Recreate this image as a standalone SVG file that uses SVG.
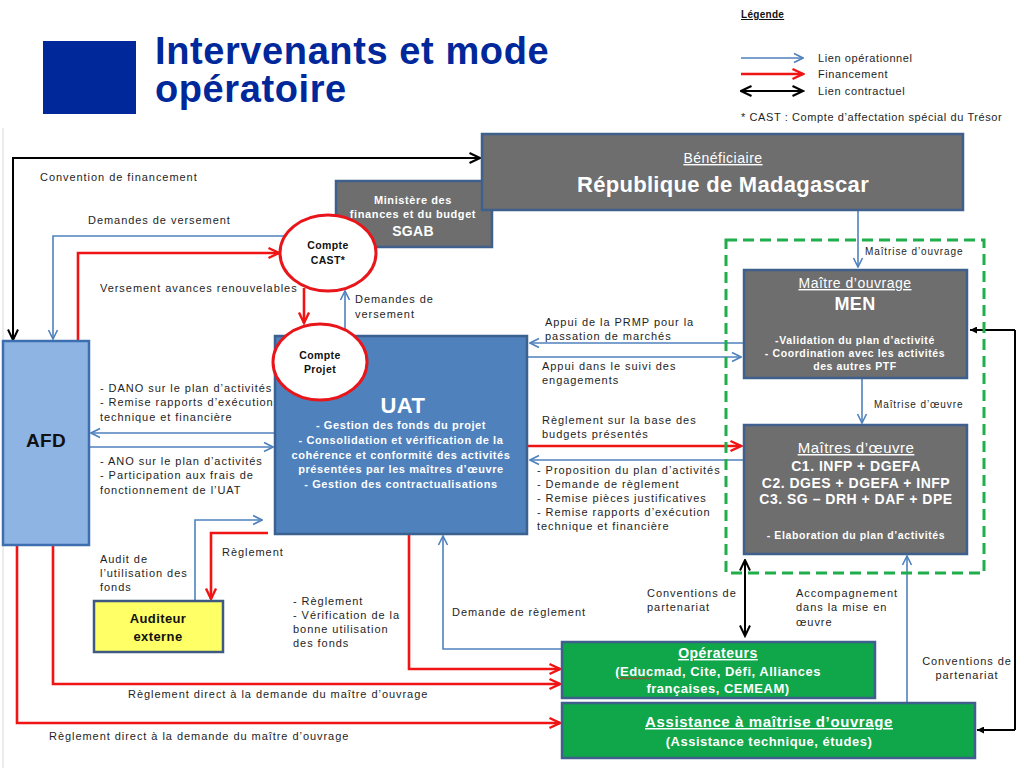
<svg xmlns="http://www.w3.org/2000/svg" width="1024" height="768" viewBox="0 0 1024 768">
<defs>
<style>
.t{font-family:"Liberation Sans",Arial,sans-serif}
.lbl{font-family:"Liberation Sans",Arial,sans-serif;font-size:11px;letter-spacing:0.95px;fill:#1e1e1e}
.leg{font-family:"Liberation Sans",Arial,sans-serif;font-size:11px;letter-spacing:0.6px;fill:#1e1e1e}
.bw{font-family:"Liberation Sans",Arial,sans-serif;font-weight:bold;font-size:11px;letter-spacing:0.6px;fill:#fff;text-anchor:middle}
.bk{font-family:"Liberation Sans",Arial,sans-serif;font-weight:bold;fill:#111;text-anchor:middle}
.ul{text-decoration:underline}
.gray{fill:#6e6e6e;stroke:#3f5f8c;stroke-width:2.5}
.grn{fill:#10a64a;stroke:#3f5f8c;stroke-width:2.5}
.cb{fill:none;stroke:#4f81bd;stroke-width:1.6;marker-end:url(#mb)}
.cr{fill:none;stroke:#f01414;stroke-width:2.6;marker-end:url(#mr)}
.ck{fill:none;stroke:#000;stroke-width:2;marker-start:url(#mk);marker-end:url(#mk)}
</style>
<marker id="mb" viewBox="0 0 12 12" refX="11" refY="6" markerWidth="12" markerHeight="12" markerUnits="userSpaceOnUse" orient="auto-start-reverse"><path d="M2,1.5 L11,6 L2,10.5" fill="none" stroke="#4f81bd" stroke-width="1.6"/></marker>
<marker id="mr" viewBox="0 0 14 14" refX="12.5" refY="7" markerWidth="14" markerHeight="14" markerUnits="userSpaceOnUse" orient="auto-start-reverse"><path d="M2,2 L12.5,7 L2,12" fill="none" stroke="#f01414" stroke-width="2.4"/></marker>
<marker id="mk" viewBox="0 0 14 14" refX="12.5" refY="7" markerWidth="14" markerHeight="14" markerUnits="userSpaceOnUse" orient="auto-start-reverse"><path d="M2,2 L12.5,7 L2,12" fill="none" stroke="#000" stroke-width="2"/></marker>
<marker id="mks" viewBox="0 0 8 8" refX="8" refY="4" markerWidth="8" markerHeight="7" markerUnits="userSpaceOnUse" orient="auto-start-reverse"><path d="M0,0 L8,4 L0,8 Z" fill="#000"/></marker>
</defs>
<rect width="1024" height="768" fill="#fff"/>
<line x1="3" y1="128" x2="3" y2="768" stroke="#d8d8d8" stroke-width="1"/>

<g id="title">
<rect x="43" y="41" width="93" height="73" fill="#00289a"/>
<text class="t" x="155" y="64" style="font-size:38px;font-weight:bold;letter-spacing:0.6px" fill="#00289a">Intervenants et mode</text>
<text class="t" x="155" y="102" style="font-size:38px;font-weight:bold;letter-spacing:0.6px" fill="#00289a">opératoire</text>
</g>

<g id="legend">
<text class="t ul" x="741" y="18" style="font-size:10px;font-weight:bold;letter-spacing:0.3px" fill="#111">Légende</text>
<line x1="741" y1="58" x2="803" y2="58" stroke="#4f81bd" stroke-width="1.6" marker-end="url(#mb)"/>
<text class="leg" x="818" y="62">Lien opérationnel</text>
<line x1="741" y1="74" x2="803" y2="74" stroke="#f01414" stroke-width="2.6" marker-end="url(#mr)"/>
<text class="leg" x="818" y="78">Financement</text>
<line x1="741" y1="91" x2="803" y2="91" stroke="#000" stroke-width="2" marker-start="url(#mk)" marker-end="url(#mk)"/>
<text class="leg" x="818" y="95">Lien contractuel</text>
<text class="leg" x="741" y="121">* CAST : Compte d’affectation spécial du Trésor</text>
</g>

<g id="connectors">
<path class="ck" d="M13,340 V158 H480"/>
<path class="cb" d="M286,236 H53 V339"/>
<path class="cr" d="M78,341 V253 H279"/>
<path class="cr" d="M304,288 V323"/>
<path class="cb" d="M345,336 V291"/>
<path class="cb" d="M858,210 V267"/>
<path class="cb" d="M743,343 H530"/>
<path class="cb" d="M528,357 H741"/>
<path class="cb" d="M862,378 V423"/>
<path class="cr" d="M528,446 H741"/>
<path class="cb" d="M743,460 H530"/>
<path class="cb" d="M275,433 H91"/>
<path class="cb" d="M90,447 H273"/>
<path class="cb" d="M195,601 V520 H262"/>
<path class="cr" d="M268,533 H211 V599"/>
<path class="cr" d="M409,534 V669 H560"/>
<path class="cb" d="M562,649 H443 V536"/>
<path class="cr" d="M53,545 V684 H560"/>
<path class="cr" d="M17,545 V723 H560"/>
<path class="ck" d="M745,636 V560"/>
<path class="cb" d="M907,703 V556"/>
<path d="M1015,330 V730" fill="none" stroke="#000" stroke-width="2"/>
<path d="M1015,330 H970" fill="none" stroke="#000" stroke-width="2" marker-end="url(#mks)"/>
<path d="M1015,730 H977" fill="none" stroke="#000" stroke-width="2" marker-end="url(#mks)"/>
</g>

<g id="labels">
<text class="lbl" x="40" y="181">Convention de financement</text>
<text class="lbl" x="88" y="224">Demandes de versement</text>
<text class="lbl" x="100" y="292">Versement avances renouvelables</text>
<text class="lbl" x="355" y="303">Demandes de</text>
<text class="lbl" x="355" y="318">versement</text>
<text class="lbl" x="865" y="255" style="font-size:10px;letter-spacing:0.9px">Maîtrise d’ouvrage</text>
<text class="lbl" x="545" y="326">Appui de la PRMP pour la</text>
<text class="lbl" x="545" y="340">passation de marchés</text>
<text class="lbl" x="542" y="370">Appui dans le suivi des</text>
<text class="lbl" x="542" y="384">engagements</text>
<text class="lbl" x="874" y="408" style="font-size:10px;letter-spacing:0.9px">Maîtrise d’œuvre</text>
<text class="lbl" x="542" y="424">Règlement  sur la base des</text>
<text class="lbl" x="542" y="438">budgets présentés</text>
<text class="lbl" x="537" y="474">- Proposition du plan d’activités</text>
<text class="lbl" x="537" y="488">- Demande de règlement</text>
<text class="lbl" x="537" y="502">- Remise pièces justificatives</text>
<text class="lbl" x="537" y="516">- Remise rapports d’exécution</text>
<text class="lbl" x="537" y="530">technique et financière</text>
<text class="lbl" x="100" y="392">- DANO sur le plan d’activités</text>
<text class="lbl" x="100" y="406">- Remise rapports d’exécution</text>
<text class="lbl" x="100" y="421">technique et financière</text>
<text class="lbl" x="100" y="465">-  ANO sur le plan d’activités</text>
<text class="lbl" x="100" y="479">- Participation aux frais de</text>
<text class="lbl" x="100" y="494">fonctionnement de l’UAT</text>
<text class="lbl" x="222" y="556">Règlement</text>
<text class="lbl" x="100" y="563">Audit de</text>
<text class="lbl" x="100" y="577">l’utilisation des</text>
<text class="lbl" x="100" y="591">fonds</text>
<text class="lbl" x="293" y="605">- Règlement</text>
<text class="lbl" x="293" y="619">- Vérification de la</text>
<text class="lbl" x="293" y="633">bonne utilisation</text>
<text class="lbl" x="293" y="647">des fonds</text>
<text class="lbl" x="452" y="616">Demande de règlement</text>
<text class="lbl" x="128" y="698">Règlement direct à la demande du maître d’ouvrage</text>
<text class="lbl" x="49" y="740">Règlement direct à la demande du maître d’ouvrage</text>
<text class="lbl" x="647" y="597">Conventions de</text>
<text class="lbl" x="647" y="611">partenariat</text>
<text class="lbl" x="796" y="597">Accompagnement</text>
<text class="lbl" x="796" y="611">dans la mise en</text>
<text class="lbl" x="796" y="626">œuvre</text>
<text class="lbl" x="967" y="665" text-anchor="middle">Conventions de</text>
<text class="lbl" x="967" y="679" text-anchor="middle">partenariat</text>
</g>

<g id="ministere">
<rect class="gray" x="336" y="181" width="156" height="66"/>
<text class="bw" x="413" y="204">Ministère des</text>
<text class="bw" x="413" y="218">finances et du budget</text>
<text class="bw" x="413" y="236" style="font-size:14px;letter-spacing:0.3px">SGAB</text>
</g>

<g id="beneficiaire">
<rect class="gray" x="482" y="134" width="481" height="76"/>
<text class="t ul" x="723" y="163" style="font-size:14px;letter-spacing:0.5px" fill="#fff" text-anchor="middle">Bénéficiaire</text>
<text class="t" x="723" y="192" style="font-size:22px;font-weight:bold;letter-spacing:0.3px" fill="#fff" text-anchor="middle">République de Madagascar</text>
</g>

<g id="cast">
<ellipse cx="328" cy="253" rx="48" ry="38" fill="#fff" stroke="#e8161b" stroke-width="3"/>
<text class="bk" x="328" y="249" style="font-size:10.5px;letter-spacing:0.4px">Compte</text>
<text class="bk" x="328" y="264" style="font-size:10.5px;letter-spacing:0.4px">CAST*</text>
</g>

<g id="afd">
<rect x="3" y="341" width="86" height="204" fill="#8db4e3" stroke="#3d6fb0" stroke-width="2.5"/>
<text class="bk" x="46" y="447" style="font-size:19px;letter-spacing:0.3px">AFD</text>
</g>

<g id="uat">
<rect x="275" y="336" width="252" height="198" fill="#4f81bd" stroke="#3a6190" stroke-width="2.5"/>
<text class="bw" x="403" y="413" style="font-size:22px;letter-spacing:0.5px">UAT</text>
<text class="bw" x="401" y="429">- Gestion des fonds du projet</text>
<text class="bw" x="401" y="444">- Consolidation et vérification de la</text>
<text class="bw" x="401" y="459">cohérence et conformité des activités</text>
<text class="bw" x="401" y="473">présentées par les maîtres d’œuvre</text>
<text class="bw" x="401" y="488">- Gestion des contractualisations</text>
</g>

<g id="projet">
<ellipse cx="320" cy="362" rx="47" ry="38" fill="#fff" stroke="#e8161b" stroke-width="3"/>
<text class="bk" x="320" y="359" style="font-size:10.5px;letter-spacing:0.4px">Compte</text>
<text class="bk" x="320" y="373" style="font-size:10.5px;letter-spacing:0.4px">Projet</text>
</g>

<g id="zone-men">
<rect x="726" y="240" width="258" height="333" fill="none" stroke="#1fae4b" stroke-width="3" stroke-dasharray="11,6"/>
</g>

<g id="men">
<rect class="gray" x="744" y="270" width="223" height="108"/>
<text class="t ul" x="855" y="288" style="font-size:14px;letter-spacing:0.5px" fill="#fff" text-anchor="middle">Maître d’ouvrage</text>
<text class="bw" x="855" y="310" style="font-size:18px;letter-spacing:0.3px">MEN</text>
<text class="bw" x="855" y="344" style="font-size:10.5px">-Validation du plan d’activité</text>
<text class="bw" x="855" y="357" style="font-size:10.5px">- Coordination avec les activités</text>
<text class="bw" x="855" y="370" style="font-size:10.5px">des autres PTF</text>
</g>

<g id="maitres-oeuvre">
<rect class="gray" x="744" y="425" width="223" height="129"/>
<text class="t ul" x="856" y="453" style="font-size:15px;letter-spacing:0.5px" fill="#fff" text-anchor="middle">Maîtres d’œuvre</text>
<text class="bw" x="856" y="471" style="font-size:14px;letter-spacing:0.5px">C1. INFP + DGEFA</text>
<text class="bw" x="856" y="488" style="font-size:14px;letter-spacing:0.5px">C2. DGES + DGEFA + INFP</text>
<text class="bw" x="856" y="504" style="font-size:14px;letter-spacing:0.5px">C3. SG – DRH + DAF + DPE</text>
<text class="bw" x="856" y="539" style="font-size:10.5px">- Elaboration du plan d’activités</text>
</g>

<g id="auditeur">
<rect x="94" y="601" width="129" height="51" fill="#ffff66" stroke="#3f5a80" stroke-width="2.5"/>
<text class="bk" x="158" y="623" style="font-size:13px;letter-spacing:0.4px">Auditeur</text>
<text class="bk" x="158" y="641" style="font-size:13px;letter-spacing:0.4px">externe</text>
</g>

<g id="operateurs">
<rect class="grn" x="562" y="642" width="313" height="56"/>
<text class="bw ul" x="718" y="658" style="font-size:14px;letter-spacing:0.5px">Opérateurs</text>
<text class="bw" x="718" y="676" style="font-size:13px;letter-spacing:0.5px">(Educmad, Cite, Défi, Alliances</text>
<text class="bw" x="718" y="693" style="font-size:13px;letter-spacing:0.5px">françaises, CEMEAM)</text>
<path d="M617,679 l2,-1.5 l2,1.5 l2,-1.5 l2,1.5 l2,-1.5 l2,1.5 l2,-1.5 l2,1.5 l2,-1.5 l2,1.5 l2,-1.5 l2,1.5 l2,-1.5 l2,1.5 l2,-1.5 l2,1.5 l2,-1.5" fill="none" stroke="#e02020" stroke-width="0.8"/>
</g>

<g id="assistance">
<rect class="grn" x="562" y="703" width="413" height="55"/>
<text class="bw ul" x="769" y="727" style="font-size:15px;letter-spacing:0.6px">Assistance à maîtrise d’ouvrage</text>
<text class="bw" x="769" y="746" style="font-size:13px;letter-spacing:0.5px">(Assistance technique, études)</text>
</g>
</svg>
